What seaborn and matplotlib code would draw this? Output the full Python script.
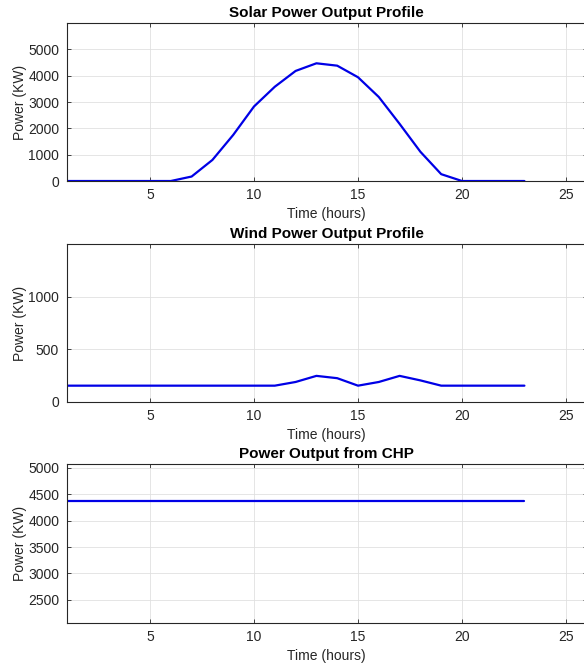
import matplotlib
matplotlib.use("Agg")
import matplotlib.pyplot as plt
import seaborn as sns
import pandas as pd

hours = list(range(1, 24))
solar = [0, 0, 0, 0, 0, 0, 170, 800, 1750, 2830, 3580, 4180, 4470, 4380, 3940, 3190, 2170, 1110, 260, 0, 0, 0, 0]
wind = [155] * 11 + [190, 248, 226, 155, 190, 248, 205] + [155] * 5
chp = [4370] * 23

titles = ["Solar Power Output Profile", "Wind Power Output Profile", "Power Output from CHP"]
ylims = [(0, 6000), (0, 1500), (2065, 5070)]
yticks = [[0, 1000, 2000, 3000, 4000, 5000], [0, 500, 1000], [2500, 3000, 3500, 4000, 4500, 5000]]
xticks = [5, 10, 15, 20, 25]

sns.set_theme(style="white")
plt.rcParams['font.family'] = ['Liberation Sans', 'DejaVu Sans']

fig = plt.figure(figsize=(5.84, 6.65), dpi=100)
positions = [(0.1144, 0.7278, 0.8904, 0.2376),
             (0.1144, 0.3955, 0.8904, 0.2376),
             (0.1144, 0.0632, 0.8904, 0.2391)]
series = [solar, wind, chp]
dark = "#262626"
for i in range(3):
    ax = fig.add_axes(positions[i])
    df = pd.DataFrame({"Time": hours, "Power": series[i]})
    sns.lineplot(data=df, x="Time", y="Power", ax=ax, color="#0000e6", linewidth=1.6)
    ax.set_xlim(1, 26)
    ax.set_ylim(*ylims[i])
    ax.set_xticks(xticks)
    ax.set_yticks(yticks[i])
    ax.grid(True, color="#e0e0e0", linewidth=0.6)
    ax.set_axisbelow(True)
    for s in ax.spines.values():
        s.set_color(dark)
        s.set_linewidth(0.8)
    ax.tick_params(direction="in", length=3, width=0.6, colors=dark, labelsize=10,
                   top=True, right=True, bottom=True, left=True)
    ax.tick_params(axis="y", pad=5.5)
    ax.tick_params(axis="x", pad=5)
    ax.set_title(titles[i], fontsize=11, fontweight="bold", color="black", pad=4)
    ax.set_xlabel("Time (hours)", fontsize=10, color=dark, labelpad=3.5)
    ax.set_ylabel("Power (KW)", fontsize=10, color=dark, labelpad=1)

fig.savefig("out.png", dpi=100)
